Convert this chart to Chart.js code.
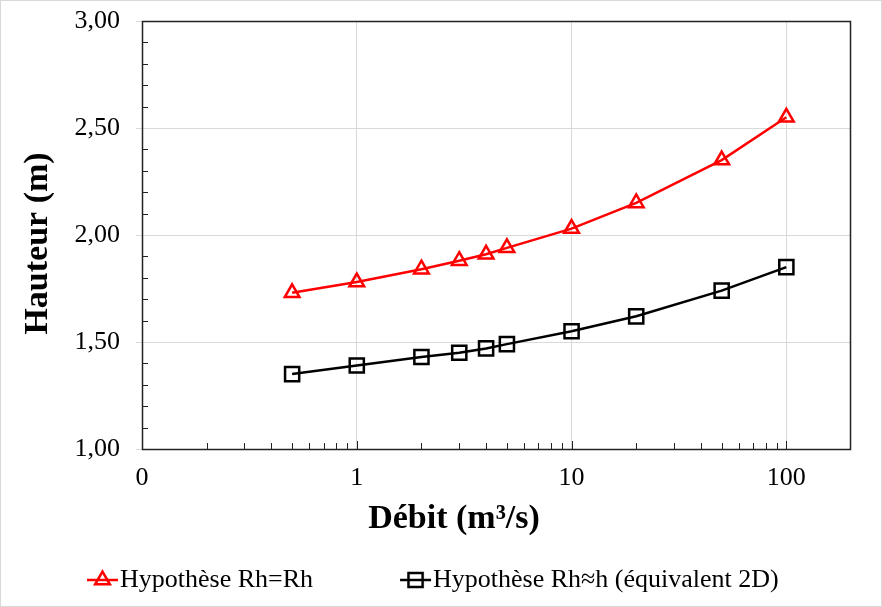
<!DOCTYPE html>
<html lang="fr">
<head>
<meta charset="UTF-8">
<title>Hauteur en fonction du débit</title>
<script src="https://cdn.jsdelivr.net/npm/chart.js"></script>
<style>
  html, body { margin: 0; padding: 0; background: #fff; }
  canvas { display: block; }
</style>
</head>
<body>
<canvas id="chart" width="882" height="607"></canvas>
<script>
// Valeurs
const debits = [0.5, 1, 2, 3, 4, 5, 10, 20, 50, 100];
const hauteurRhRh = [1.73, 1.78, 1.84, 1.88, 1.91, 1.94, 2.03, 2.15, 2.35, 2.55];
const hauteurRh2D = [1.35, 1.39, 1.43, 1.45, 1.47, 1.49, 1.55, 1.62, 1.74, 1.85];
const serieLabels = ['Hypothèse Rh=Rh', 'Hypothèse Rh≈h (équivalent 2D)'];
const serieColors = ['#ff0000', '#000000'];
const serieMarkers = ['triangle', 'rect'];
const xMajorValues = [0.1, 1, 10, 100];
const xMajorLabels = ['0', '1', '10', '100'];
const xTitle = 'Débit (m³/s)';
const yTitle = 'Hauteur (m)';

const FONT = "'Liberation Serif', 'Times New Roman', serif";

function isPow10(v) {
  const l = Math.log10(v);
  return Math.abs(l - Math.round(l)) < 1e-6;
}
function isRoundMantissa(v) {
  const m = v / Math.pow(10, Math.floor(Math.log10(v) + 1e-9));
  return Math.abs(m - Math.round(m)) < 1e-6;
}
function isMajorY(v) {
  return Math.round(v * 10) % 5 === 0;
}

// petit symbole ligne + marqueur pour la légende
function legendSymbol(color, marker, radius) {
  const c = document.createElement('canvas');
  c.width = 121; c.height = 24;
  const g = c.getContext('2d');
  g.strokeStyle = color;
  g.lineWidth = 2.5;
  g.beginPath();
  g.moveTo(89, 12); g.lineTo(120, 12);
  g.stroke();
  g.fillStyle = 'rgba(0,0,0,0)';
  Chart.helpers.drawPoint(g, { pointStyle: marker, radius: radius, borderWidth: 2.5, rotation: 0 }, 104.5, 12);
  return c;
}

const frameAndTicks = {
  id: 'frameAndTicks',
  beforeDraw(chart) {
    const ctx = chart.ctx;
    ctx.save();
    ctx.fillStyle = '#fff';
    ctx.fillRect(0, 0, chart.width, chart.height);
    ctx.restore();
  },
  beforeDatasetsDraw(chart) {
    const { ctx, chartArea: a, scales: { x, y } } = chart;
    ctx.save();
    ctx.strokeStyle = '#222';
    ctx.lineWidth = 1;
    ctx.beginPath();
    y.ticks.forEach(t => {
      if (isMajorY(t.value)) return;
      const py = Math.round(y.getPixelForValue(t.value)) + 0.5;
      ctx.moveTo(a.left, py); ctx.lineTo(a.left + 6, py);
    });
    x.ticks.forEach(t => {
      const px = Math.round(x.getPixelForValue(t.value)) + 0.5;
      if (px <= a.left + 1 || px >= a.right - 1) return;
      const len = isPow10(t.value) ? 8 : 6;
      ctx.moveTo(px, a.bottom); ctx.lineTo(px, a.bottom - len);
    });
    ctx.stroke();
    ctx.lineWidth = 1.5;
    ctx.strokeRect(Math.round(a.left) + 0.5, Math.round(a.top) + 0.5,
      Math.round(a.right - a.left) - 1, Math.round(a.bottom - a.top));
    ctx.restore();
  },
  afterDraw(chart) {
    const ctx = chart.ctx;
    ctx.save();
    ctx.strokeStyle = '#d9d9d9';
    ctx.strokeRect(0.5, 0.5, chart.width - 1, chart.height - 1);
    ctx.restore();
  }
};

const symbols = [
  legendSymbol(serieColors[0], serieMarkers[0], 8.5),
  legendSymbol(serieColors[1], serieMarkers[1], 10)
];

new Chart(document.getElementById('chart'), {
  type: 'line',
  data: {
    datasets: [
      {
        label: serieLabels[0],
        data: debits.map((d, i) => ({ x: d, y: hauteurRhRh[i] })),
        borderColor: serieColors[0],
        borderWidth: 2.5,
        pointStyle: serieMarkers[0],
        pointRadius: 8.5,
        pointBorderWidth: 2.5,
        pointBorderColor: serieColors[0],
        pointBackgroundColor: 'rgba(0,0,0,0)',
        tension: 0
      },
      {
        label: serieLabels[1],
        data: debits.map((d, i) => ({ x: d, y: hauteurRh2D[i] })),
        borderColor: serieColors[1],
        borderWidth: 2.5,
        pointStyle: serieMarkers[1],
        pointRadius: 10,
        pointBorderWidth: 2.5,
        pointBorderColor: serieColors[1],
        pointBackgroundColor: 'rgba(0,0,0,0)',
        tension: 0
      }
    ]
  },
  options: {
    responsive: false,
    animation: false,
    layout: { padding: { top: 21, right: 31, left: 0, bottom: 4 } },
    plugins: {
      tooltip: { enabled: false },
      legend: {
        position: 'bottom',
        align: 'start',
        labels: {
          usePointStyle: true,
          pointStyleWidth: 97,
          padding: 10,
          color: '#000',
          font: { family: FONT, size: 26 },
          generateLabels: chart => chart.data.datasets.map((ds, i) => ({
            text: ds.label,
            pointStyle: symbols[i],
            fillStyle: 'rgba(0,0,0,0)',
            strokeStyle: ds.borderColor,
            lineWidth: 0,
            hidden: false,
            datasetIndex: i,
            fontColor: '#000'
          }))
        }
      }
    },
    scales: {
      x: {
        type: 'logarithmic',
        min: 0.1,
        max: 200,
        afterBuildTicks(scale) {
          scale.ticks = scale.ticks.filter(t => isRoundMantissa(t.value));
        },
        afterFit(scale) {
          scale.height = 108;
          scale.paddingLeft = 0;
          scale.paddingRight = 0;
        },
        border: { display: false },
        grid: {
          drawTicks: false,
          color: c => (c.tick && isPow10(c.tick.value) && c.tick.value > 0.5 ? '#d9d9d9' : 'rgba(0,0,0,0)')
        },
        ticks: {
          autoSkip: false,
          maxRotation: 0,
          padding: 14,
          color: '#000',
          font: { family: FONT, size: 26 },
          callback: v => {
            const k = xMajorValues.findIndex(m => Math.abs(m - v) < 1e-9);
            return k >= 0 ? xMajorLabels[k] : '';
          }
        },
        title: {
          display: true,
          text: xTitle + '          ',
          color: '#000',
          font: { family: FONT, size: 34, weight: 'bold' },
          padding: { top: 0, bottom: 17 }
        }
      },
      y: {
        min: 1,
        max: 3,
        afterFit(scale) {
          scale.width = 142;
          scale.paddingTop = 0;
          scale.paddingBottom = 0;
        },
        border: { display: false },
        grid: {
          drawTicks: true,
          tickLength: 6,
          color: c => (c.tick && isMajorY(c.tick.value) ? '#d9d9d9' : 'rgba(0,0,0,0)'),
          tickColor: c => (c.tick && isMajorY(c.tick.value) ? '#d9d9d9' : 'rgba(0,0,0,0)')
        },
        ticks: {
          stepSize: 0.1,
          autoSkip: false,
          padding: 16,
          color: '#000',
          font: { family: FONT, size: 26 },
          callback: v => (isMajorY(v) ? v.toFixed(2).replace('.', ',') : '')
        },
        title: {
          display: true,
          text: yTitle + '  ',
          color: '#000',
          font: { family: FONT, size: 34, weight: 'bold' },
          padding: { top: 18, bottom: 0 }
        }
      }
    }
  },
  plugins: [frameAndTicks]
});
</script>
</body>
</html>
